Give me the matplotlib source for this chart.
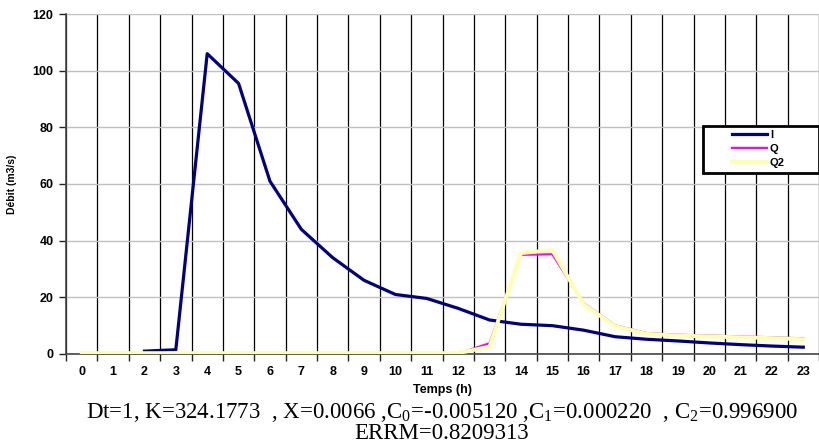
import numpy as np
import matplotlib.pyplot as plt
from matplotlib.ticker import MultipleLocator, FixedLocator
from matplotlib.patches import Rectangle

hours = list(range(24))
I = [np.nan, np.nan, 1.0, 1.5, 106.0, 95.5, 61.0, 44.0, 34.0, 26.0, 21.0, 19.6,
     16.1, 12.0, 10.5, 10.0, 8.4, 6.1, 5.2, 4.6, 3.9, 3.3, 2.8, 2.4]
Q = [0.0, 0.0, 0.0, 0.0, 0.0, 0.0, 0.0, 0.0, 0.0, 0.0, 0.0, 0.0,
     0.1, 3.8, 35.0, 35.2, 17.9, 10.1, 7.4, 6.8, 6.5, 6.2, 5.9, 5.5]
Q2 = [0.3, 0.3, 0.3, 0.3, 0.3, 0.3, 0.3, 0.3, 0.3, 0.3, 0.3, 0.3,
      0.3, 2.6, 35.6, 36.7, 17.5, 9.8, 7.1, 6.5, 6.2, 5.9, 5.6, 5.2]

plt.rcParams['font.family'] = ['Liberation Sans', 'DejaVu Sans']
plt.rcParams['mathtext.fontset'] = 'custom'
plt.rcParams['mathtext.rm'] = 'Liberation Serif'

fig = plt.figure(figsize=(8.19, 4.46), dpi=100)
ax = fig.add_axes([0.0806, 0.2063, 0.9194, 0.7623])

ax.plot(hours, I, color='#000080', lw=2.3, label='I', zorder=3)
ax.plot(hours, Q, color='#FF00FF', lw=1.6, label='Q', zorder=4)
ax.plot(hours, Q2, color='#FFFFB0', lw=2.8, label='Q2', zorder=5)

ax.set_xlim(-0.5, 23.5)
ax.set_ylim(0, 120)
ax.yaxis.set_major_locator(MultipleLocator(20))
ax.set_xticks(hours)
ax.xaxis.set_minor_locator(FixedLocator(np.arange(-0.5, 24, 1)))
ax.tick_params(axis='x', which='major', length=0, pad=9)
ax.tick_params(axis='x', which='minor', length=5, width=1, color='#222222')
ax.tick_params(axis='y', length=5, width=1, color='#222222', pad=4)
for lab in ax.get_xticklabels() + ax.get_yticklabels():
    lab.set_fontweight('bold')
    lab.set_fontsize(9)

ax.grid(axis='y', which='major', color='#c0c0c0', lw=1)
ax.grid(axis='x', which='minor', color='black', lw=0.9)
ax.set_axisbelow(True)
for s in ['top', 'right']:
    ax.spines[s].set_visible(False)
ax.spines['left'].set_color('#444444')
ax.spines['bottom'].set_color('#444444')
ax.spines['left'].set_linewidth(1.2)
ax.spines['bottom'].set_linewidth(1.2)

ax.set_ylabel('Débit (m3/s)', fontsize=7.5, fontweight='bold', labelpad=11)
ax.set_xlabel('Temps (h)', fontsize=9, fontweight='bold', labelpad=4)

# legend box drawn separately (Excel-style wide box)
box = Rectangle((0.846, (354 - 173) / 340), (819 - 703) / 753, 47 / 340,
                transform=ax.transAxes, facecolor='white', edgecolor='black',
                lw=2, zorder=6, clip_on=False)
ax.add_patch(box)
leg = ax.legend(loc='upper left', bbox_to_anchor=(0.884, 0.66),
                prop={'weight': 'bold', 'size': 8}, frameon=False,
                borderpad=0, borderaxespad=0, labelspacing=0.38,
                handlelength=3.2, handletextpad=0.25)
leg.set_zorder(7)

fig.text(0.54, 0.074,
         r'Dt=1, K=324.1773  , X=0.0066 ,C$_0$=-0.005120 ,C$_1$=0.000220  , C$_2$=0.996900',
         ha='center', va='center', fontsize=16.5, family='Liberation Serif')
fig.text(0.539, 0.028, 'ERRM=0.8209313', ha='center', va='center',
         fontsize=16.5, family='Liberation Serif')

fig.savefig('out.png', dpi=100)
